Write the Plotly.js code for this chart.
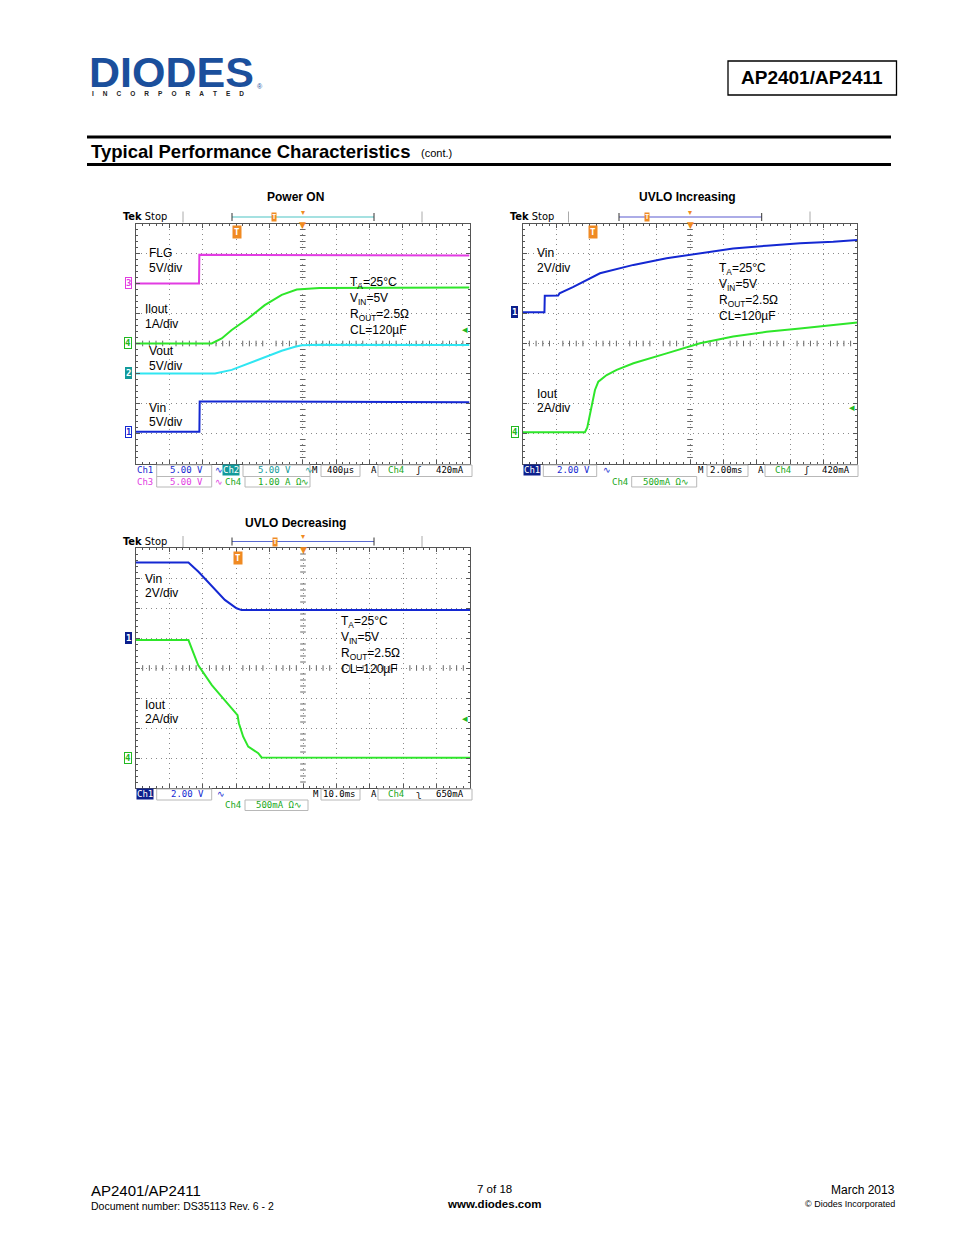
<!DOCTYPE html>
<html><head><meta charset="utf-8">
<script src="https://cdn.plot.ly/plotly-3.0.1.min.js"></script>
<style>html,body{margin:0;padding:0;background:#fff}#g{width:954px;height:1235px}</style>
</head><body><div id="g"></div>
<script>
// ---------- DATA (x: horizontal divisions 0..10, y: vertical divisions from screen centre) ----------
// Power ON (400 µs/div)
const pwrFlgX  = [0, 1.89, 1.9, 10];
const pwrFlgY  = [2.0, 2.0, 2.96, 2.93];
const pwrIoutX = [0, 2.27, 2.57, 2.87, 3.37, 3.86, 4.37, 4.82, 5.5, 10];
const pwrIoutY = [0, 0, 0.17, 0.45, 0.84, 1.28, 1.62, 1.8, 1.85, 1.87];
const pwrVoutX = [0, 2.37, 2.87, 3.37, 3.87, 4.37, 4.77, 4.97, 5.5, 10];
const pwrVoutY = [-1, -1, -0.88, -0.66, -0.44, -0.24, -0.11, -0.06, -0.04, -0.05];
const pwrVinX  = [0, 1.9, 1.91, 10];
const pwrVinY  = [-2.94, -2.94, -1.93, -1.96];
// UVLO Increasing (2 ms/div)
const incVinX  = [0, 0.65, 0.66, 1.06, 1.1, 1.5, 2.31, 3.31, 4.3, 5.0, 6.29, 7.29, 8.29, 9.28, 10];
const incVinY  = [1.04, 1.04, 1.59, 1.6, 1.67, 1.88, 2.34, 2.62, 2.84, 2.95, 3.17, 3.26, 3.34, 3.39, 3.45];
const incIoutX = [0, 1.86, 1.93, 2.01, 2.16, 2.26, 2.51, 2.81, 3.31, 4.3, 5.0, 5.3, 6.29, 7.29, 8.29, 9.28, 10];
const incIoutY = [-2.96, -2.96, -2.8, -2.33, -1.55, -1.27, -1.05, -0.88, -0.66, -0.33, -0.11, 0.01, 0.23, 0.39, 0.5, 0.62, 0.7];
// UVLO Decreasing (10 ms/div)
const decVinX  = [0, 1.57, 1.87, 2.37, 2.66, 3.01, 3.16, 10];
const decVinY  = [3.52, 3.52, 3.21, 2.6, 2.27, 1.99, 1.93, 1.93];
const decIoutX = [0, 1.57, 1.86, 1.97, 2.27, 2.57, 2.87, 3.04, 3.08, 3.21, 3.36, 3.56, 3.66, 3.76, 10];
const decIoutY = [0.93, 0.93, 0.1, -0.07, -0.57, -0.96, -1.34, -1.57, -1.84, -2.29, -2.62, -2.76, -2.84, -2.98, -2.99];
// channel ground markers (divisions)
const pwrMarkers = [['3', 2.0], ['4', 0], ['2', -1], ['1', -2.94]];
const incMarkers = [['1', 1.04], ['4', -2.96]];
const decMarkers = [['1', 1.0], ['4', -3.0]];
// trigger levels (divisions)
const trigLevels = [0.45, -2.13, -1.68];
// labels
const condLines = ['T<sub>A</sub>=25°C', 'V<sub>IN</sub>=5V', 'R<sub>OUT</sub>=2.5Ω', 'CL=120µF'];

// ---------- helpers ----------
const W = 954, H = 1235;
const px = x => x / W, py = y => 1 - y / H;
const ARIAL = 'Liberation Sans, Arial, sans-serif';
const MONO = 'DejaVu Sans Mono, monospace';
const C = {blue:'#1428d2', green:'#2ee62a', mag:'#e23ce2', cyan:'#30e6f2', teal:'#139a9a', navy:'#0c1f8c', orange:'#f08a22', grid:'#8a8a8a', frame:'#555'};
const ann = [];
const shapes = [];
function T(text, x, y, size, color, o) {
  ann.push(Object.assign({text, x:px(x), y:py(y), xref:'paper', yref:'paper', showarrow:false,
    xanchor:'left', yanchor:'middle', font:{family:ARIAL, size:size||12, color:color||'#000'}}, o||{}));
}
function M(text, x, y, color, o) { T(text, x, y, 9, color, Object.assign({font:{family:MONO, size:9, color}}, o||{})); }
function line(x0, y0, x1, y1, color, w) {
  shapes.push({type:'line', xref:'paper', yref:'paper', x0:px(x0), y0:py(y0), x1:px(x1), y1:py(y1), line:{color, width:w||1}});
}
function rect(x0, y0, x1, y1, color, w) {
  shapes.push({type:'rect', xref:'paper', yref:'paper', x0:px(x0), y0:py(y0), x1:px(x1), y1:py(y1), line:{color, width:w||1}});
}

// ---------- axes ----------
function axis(domain, isX) {
  return {domain, range: isX ? [0, 10] : [-4, 4], dtick:1, tick0:0, showgrid:true, gridcolor:C.grid, griddash:'1px,4px', gridwidth:1,
    zeroline:false, showticklabels:false, showline:true, linecolor:C.frame, linewidth:1, mirror:'allticks',
    ticks:'inside', ticklen:4, tickcolor:C.frame, fixedrange:true,
    minor:{dtick:0.2, ticks:'inside', ticklen:2, tickcolor:C.frame, showgrid:false}};
}
const P1 = {x0:136, x1:469.5, y0:223.5, y1:463.5};
const P2 = {x0:522.7, x1:857.3, y0:223.5, y1:463.5};
const P3 = {x0:136, x1:470, y0:548, y1:788};
const layout = {
  width:W, height:H, margin:{l:0, r:0, t:0, b:0}, paper_bgcolor:'#fff', plot_bgcolor:'#fff', showlegend:false,
  xaxis:axis([px(P1.x0), px(P1.x1)], true), yaxis:axis([py(P1.y1), py(P1.y0)], false),
  xaxis2:axis([px(P2.x0), px(P2.x1)], true), yaxis2:axis([py(P2.y1), py(P2.y0)], false),
  xaxis3:axis([px(P3.x0), px(P3.x1)], true), yaxis3:axis([py(P3.y1), py(P3.y0)], false),
};
layout.xaxis.anchor='y'; layout.yaxis.anchor='x';
layout.xaxis2.anchor='y2'; layout.yaxis2.anchor='x2';
layout.xaxis3.anchor='y3'; layout.yaxis3.anchor='x3';

// ---------- traces ----------
const traces = [];
function tr(x, y, color, xa, ya) {
  traces.push({type:'scatter', mode:'lines', x, y, xaxis:xa, yaxis:ya, line:{color, width:2}, hoverinfo:'skip'});
}
// centre cross tick marks (decoration)
function centreTicks(xa, ya) {
  const hx = [], hy = [], vx = [], vy = [];
  for (let k = 1; k < 50; k++) { if (k % 5) { hx.push(k * 0.2); hy.push(0); } }
  for (let k = 1; k < 40; k++) { if (k % 5) { vx.push(5); vy.push(-4 + k * 0.2); } }
  traces.push({type:'scatter', mode:'markers', x:hx, y:hy, xaxis:xa, yaxis:ya, hoverinfo:'skip',
    marker:{symbol:'line-ns', size:4, line:{width:1, color:'#666'}}});
  traces.push({type:'scatter', mode:'markers', x:vx, y:vy, xaxis:xa, yaxis:ya, hoverinfo:'skip',
    marker:{symbol:'line-ew', size:4, line:{width:1, color:'#666'}}});
}
centreTicks('x', 'y'); centreTicks('x2', 'y2'); centreTicks('x3', 'y3');
tr(pwrFlgX, pwrFlgY, C.mag, 'x', 'y');
tr(pwrVinX, pwrVinY, C.blue, 'x', 'y');
tr(pwrVoutX, pwrVoutY, C.cyan, 'x', 'y');
tr(pwrIoutX, pwrIoutY, C.green, 'x', 'y');
tr(incVinX, incVinY, C.blue, 'x2', 'y2');
tr(incIoutX, incIoutY, C.green, 'x2', 'y2');
tr(decVinX, decVinY, C.blue, 'x3', 'y3');
tr(decIoutX, decIoutY, C.green, 'x3', 'y3');

// ---------- channel markers ----------
const chColor = {'1':C.blue, '2':C.teal, '3':C.mag, '4':'#22b822'};
function markers(list, xpix, yref, filled) {
  list.forEach(([ch, v]) => {
    const f = filled.includes(ch);
    const col = ch === '1' && f ? C.navy : chColor[ch];
    ann.push({text:'<b>'+ch+'</b>', x:px(xpix), xref:'paper', y:v, yref, showarrow:false, xanchor:'center', yanchor:'middle',
      font:{family:MONO, size:9, color: f ? '#fff' : col}, bgcolor: f ? col : '#fff', bordercolor:col, borderwidth:1, borderpad:0});
  });
}
markers(pwrMarkers, 128, 'y', ['2']);
markers(incMarkers, 514.5, 'y2', ['1']);
markers(decMarkers, 128, 'y3', ['1']);
// trigger level arrows
[['y', 0], ['y2', 1], ['y3', 2]].forEach(([yr, i]) => {
  ann.push({text:'◂', x: i === 1 ? px(852) : px(465), xref:'paper', y:trigLevels[i], yref:yr, showarrow:false,
    xanchor:'center', yanchor:'middle', font:{family:'DejaVu Sans', size:11, color:'#22b822'}});
});

// ---------- scope decorations ----------
function scopeTop(P, tekX, barX0, barX1, barColor, tX, trigX, trigY, sepA, sepB) {
  const yb = P.y0 - 6.5;
  T('<b>Tek</b> Stop', tekX, yb, 11, '#000', {font:{family:'DejaVu Sans Condensed, DejaVu Sans', size:11, color:'#000'}});
  line(sepA, P.y0 - 12, sepA, P.y0 - 1, '#aaa', 1);
  line(sepB, P.y0 - 12, sepB, P.y0 - 1, '#aaa', 1);
  line(barX0, yb, barX1, yb, barColor, 1.2);
  line(barX0, yb - 4, barX0, yb + 4, '#333', 1);
  line(barX1, yb - 4, barX1, yb + 4, '#333', 1);
  ann.push({text:'<b>T</b>', x:px(tX), y:py(yb), xref:'paper', yref:'paper', showarrow:false, xanchor:'center', yanchor:'middle',
    font:{family:MONO, size:7, color:'#fff'}, bgcolor:C.orange, borderpad:0});
  const cx = (P.x0 + P.x1) / 2;
  T('▾', cx, P.y0 - 11, 8, C.orange, {xanchor:'center', font:{family:'DejaVu Sans', size:8, color:C.orange}});
  T('▼', cx, P.y0 + 2, 9, C.orange, {xanchor:'center', font:{family:'DejaVu Sans', size:9, color:C.orange}});
  ann.push({text:'<b>T</b>', x:px(trigX), y:py(trigY), xref:'paper', yref:'paper', showarrow:false, xanchor:'center', yanchor:'middle',
    font:{family:MONO, size:9, color:'#fff'}, bgcolor:C.orange, borderpad:1});
}
scopeTop(P1, 121, 232, 374, '#4cc4c4', 274, 236.7, 232, 183, 422);
scopeTop(P2, 508, 619, 761.7, '#5a5ad0', 647, 592.7, 232, 568.5, 810);
scopeTop(P3, 121, 232, 374, '#5a6ad0', 275, 237.7, 558.3, 183, 422);

// ---------- readouts ----------
const grey = '#b8b8b8';
// Power ON
[[156.7,211.7],[243,310],[321,360],[378,472]].forEach(([a,b]) => rect(a, 465, b, 476.5, grey));
[[156.7,211.7],[245,310]].forEach(([a,b]) => rect(a, 476.5, b, 487, grey));
M('Ch1', 135, 470.5, C.blue); M('5.00 V', 168, 470.5, C.blue); M('∿', 213, 470.5, C.blue);
ann.push({text:'Ch2', x:px(222), y:py(470.5), xref:'paper', yref:'paper', showarrow:false, xanchor:'left', yanchor:'middle',
  font:{family:MONO, size:9, color:'#fff'}, bgcolor:C.teal, borderpad:0});
M('5.00 V', 256, 470.5, C.teal); M('∿', 303, 470.5, C.teal);
M('M', 310, 470.5, '#000'); M('400µs', 325, 470.5, '#000');
M('A', 369, 470.5, '#000'); M('Ch4', 386, 470.5, '#1aa81a'); M('ʃ', 414, 470.5, '#000'); M('420mA', 434, 470.5, '#000');
M('Ch3', 135, 482, C.mag); M('5.00 V', 168, 482, C.mag); M('∿', 213, 482, C.mag);
M('Ch4', 223, 482, '#1aa81a'); M('1.00 A Ω∿', 256, 482, '#1aa81a');
// UVLO Increasing
[[543.3,596.7],[707,748],[765,858]].forEach(([a,b]) => rect(a, 465, b, 476.5, grey));
rect(631.7, 476.5, 696.7, 487, grey);
ann.push({text:'Ch1', x:px(522.7), y:py(470.5), xref:'paper', yref:'paper', showarrow:false, xanchor:'left', yanchor:'middle',
  font:{family:MONO, size:9, color:'#fff'}, bgcolor:C.navy, borderpad:0});
M('2.00 V', 555, 470.5, C.blue); M('∿', 601, 470.5, C.blue);
M('M', 696, 470.5, '#000'); M('2.00ms', 708, 470.5, '#000');
M('A', 756, 470.5, '#000'); M('Ch4', 773, 470.5, '#1aa81a'); M('ʃ', 802, 470.5, '#000'); M('420mA', 820, 470.5, '#000');
M('Ch4', 610, 481.5, '#1aa81a'); M('500mA Ω∿', 641, 481.5, '#1aa81a');
// UVLO Decreasing
[[156.7,211.7],[321,360],[378,472]].forEach(([a,b]) => rect(a, 789, b, 800, grey));
rect(245, 800, 308, 810.5, grey);
ann.push({text:'Ch1', x:px(135.5), y:py(794), xref:'paper', yref:'paper', showarrow:false, xanchor:'left', yanchor:'middle',
  font:{family:MONO, size:9, color:'#fff'}, bgcolor:C.navy, borderpad:0});
M('2.00 V', 169, 794, C.blue); M('∿', 215, 794, C.blue);
M('M', 311, 794, '#000'); M('10.0ms', 321, 794, '#000');
M('A', 369, 794, '#000'); M('Ch4', 386, 794, '#1aa81a'); M('ʅ', 414, 794, '#000'); M('650mA', 434, 794, '#000');
M('Ch4', 223, 805, '#1aa81a'); M('500mA Ω∿', 254, 805, '#1aa81a');

// ---------- in-plot labels ----------
T('FLG', 147, 253); T('5V/div', 147, 268);
T('Ilout', 143, 309); T('1A/div', 143, 324);
T('Vout', 147, 351); T('5V/div', 147, 366);
T('Vin', 147, 408); T('5V/div', 147, 422);
condLines.forEach((s, i) => T(s, 348, 283 + i * 15.8));
T('Vin', 535, 253); T('2V/div', 535, 268);
condLines.forEach((s, i) => T(s, 717, 269 + i * 15.8));
T('Iout', 535, 394); T('2A/div', 535, 408);
T('Vin', 143, 579); T('2V/div', 143, 593);
condLines.forEach((s, i) => T(s, 339, 622 + i * 15.8));
T('Iout', 143, 705); T('2A/div', 143, 719);

// ---------- titles ----------
T('<b>Power ON</b>', 295, 197, 12, '#000', {xanchor:'center'});
T('<b>UVLO Increasing</b>', 687, 197, 12, '#000', {xanchor:'center'});
T('<b>UVLO Decreasing</b>', 295, 523, 12, '#000', {xanchor:'center'});

// ---------- page header ----------
T('<b>DIODES</b>', 87, 72, 43, '#1b4f9c');
T('®', 255, 87, 7, '#1b4f9c');
const NB = '\u00A0'.repeat(5);
T('<b>' + 'INCORPORATED'.split('').join(NB) + '</b>', 90, 94, 6.5, '#222');
rect(728, 61, 896.5, 95, '#000', 1.3);
T('<b>AP2401/AP2411</b>', 812, 78, 19, '#000', {xanchor:'center'});
line(87, 137, 891, 137, '#000', 3);
line(87, 164.5, 891, 164.5, '#000', 3);
T('<b>Typical Performance Characteristics</b>', 89, 151, 18.5, '#000');
T('(cont.)', 419, 153, 11, '#000');

// ---------- footer ----------
T('AP2401/AP2411', 89, 1190, 15, '#000');
T('Document number: DS35113 Rev. 6 - 2', 89, 1206, 10.5, '#000');
T('7 of 18', 494, 1189, 11.5, '#000', {xanchor:'center'});
T('<b>www.diodes.com</b>', 494, 1204, 11.5, '#000', {xanchor:'center'});
T('March 2013', 897, 1190, 12, '#000', {xanchor:'right'});
T('© Diodes Incorporated', 897, 1204, 9, '#000', {xanchor:'right'});

layout.annotations = ann;
layout.shapes = shapes;
Plotly.newPlot('g', traces, layout, {displayModeBar:false, staticPlot:true});
</script>
</body></html>
